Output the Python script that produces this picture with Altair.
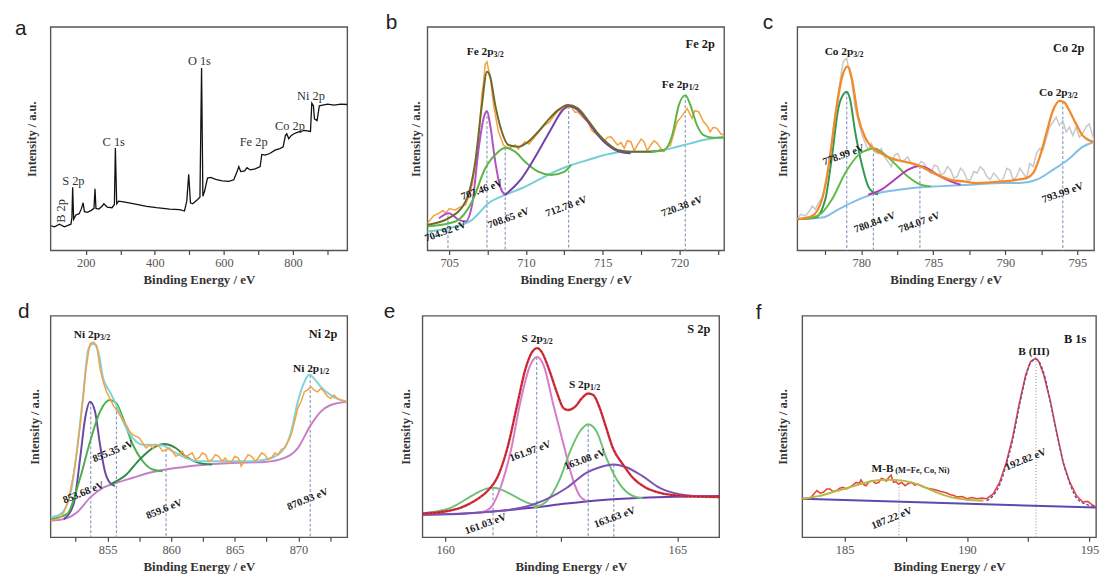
import altair as alt
import pandas as pd

SERIF = "Liberation Serif"
SANS = "Liberation Sans"

# ---------------- panel a : survey ----------------
A_BE = [100, 109.5, 123.8, 138, 152, 157, 160, 162, 165, 171.4, 181, 187.6, 192.4, 196, 204.8, 216, 223.8, 226.7, 229.5, 238,
        247.6, 252.4, 262, 276, 282.9, 285.7, 289.5, 295.2, 309.5, 328.6, 347.6, 376, 404.8, 442.9, 471.4, 485.7, 492.4, 498, 503, 509.5,
        523.8, 530.5, 535.2, 539, 543.8, 552.4, 562, 576, 595, 614, 628.6, 638, 642.9, 648.6, 660, 666.7, 676, 690.5, 704.8, 709.5,
        719, 733, 747.6, 761.9, 771.4, 778, 781.9, 787.6, 795.2, 802.9, 814.3, 833, 850.5, 854.3, 859, 862, 869.5, 876.2, 885.7, 900,
        919, 938, 957]
A_INT = [75, 72, 80, 72, 78, 80, 100, 192, 95, 108, 112, 128, 145, 118, 116, 122, 128, 188, 128, 126,
         135, 142, 132, 130, 140, 312, 142, 150, 148, 144, 140, 134, 130, 126, 124, 120, 150, 232, 145, 142,
         155, 162, 555, 165, 180, 220, 222, 216, 212, 210, 215, 240, 255, 240, 242, 252, 245, 248, 255, 292,
         290, 295, 305, 310, 315, 350, 355, 340, 350, 355, 360, 365, 362, 448, 440, 400, 395, 440, 442, 445,
         442, 445, 444]
A_LAB = ["S 2p", "C 1s", "O 1s", "Fe 2p", "Co 2p", "Ni 2p"]
A_LAB_BE = [164, 281, 529, 686, 791, 852]
A_LAB_I = [210, 330, 575, 330, 380, 470]
A_ROT_LAB = ["B 2p"]
A_ROT_BE = [128.6]
A_ROT_I = [120]
A_TICKS = [200, 300, 400, 500, 600, 700, 800, 900]

# ---------------- panel b : Fe 2p ----------------
B_RAW_BE = [703.58, 704.0, 704.33, 704.6, 704.76, 705.0, 705.41, 705.7, 706.06, 706.3, 706.49, 706.7, 706.92, 707.13, 707.24,
            707.35, 707.46, 707.58, 707.67, 707.89, 708.21, 708.53, 708.86, 709.29, 709.5, 709.94, 710.2, 710.58, 710.9, 711.23,
            711.5, 711.88, 712.1, 712.52, 712.95, 713.2, 713.38, 713.7, 714.03, 714.3, 714.68, 715.11, 715.3, 715.54, 715.97,
            716.2, 716.4, 716.6, 716.83, 717.05, 717.26, 717.5, 717.69, 717.9, 718.13, 718.35, 718.56, 718.8, 718.99, 719.2,
            719.42, 719.85, 720.1, 720.28, 720.5, 720.82, 721.0, 721.25, 721.57, 721.8, 722.0, 722.2, 722.44, 722.7, 722.91]
B_RAW_I = [82, 105, 112, 120, 112, 125, 122, 130, 137, 165, 197, 260, 337, 470, 507,
           560, 567, 540, 527, 437, 357, 317, 307, 317, 305, 327, 320, 342, 360, 377,
           385, 407, 420, 427, 432, 415, 417, 400, 387, 360, 347, 327, 340, 342, 317,
           325, 307, 330, 327, 300, 317, 335, 327, 300, 317, 330, 322, 305, 297, 310,
           317, 387, 400, 412, 427, 397, 420, 417, 387, 375, 357, 370, 367, 350, 347]
B_FIT_BE = [703.58, 704.98, 706.06, 706.70, 707.13, 707.46, 707.67, 708.0, 708.43, 708.86, 709.50, 710.15, 710.80, 711.44,
            712.09, 712.74, 713.38, 714.03, 714.68, 715.32, 715.97, 716.83, 718.13, 718.99]
B_FIT_I = [77, 97, 147, 267, 437, 537, 522, 437, 357, 317, 312, 327, 357, 392, 422, 437, 427, 392, 352, 322, 302, 297, 297, 302]
B_G2_BE = [718.13, 718.99, 719.53, 719.96, 720.39, 720.71, 721.14, 721.57, 722.22, 722.91]
B_G2_I = [297, 302, 347, 437, 467, 437, 377, 347, 339, 339]
B_BG_BE = [703.58, 705.41, 706.49, 707.56, 708.64, 709.72, 710.80, 711.88, 712.95, 714.03, 715.11, 716.40, 717.69, 718.99,
           719.85, 720.71, 721.57, 722.91]
B_BG_I = [57, 72, 92, 142, 167, 187, 212, 237, 257, 272, 287, 297, 297, 302, 312, 322, 332, 342]
B_P1_BE = [704.33, 704.98, 705.63, 706.06, 706.49, 706.92, 707.24, 707.46, 707.67, 708.0, 708.32, 708.64]
B_P1_I = [97, 112, 92, 87, 137, 307, 397, 419, 377, 267, 192, 167]
B_G1_BE = [703.58, 705.41, 706.49, 707.35, 708.21, 708.64, 709.29, 709.94, 710.80, 711.66, 712.52, 712.95]
B_G1_I = [72, 87, 147, 247, 297, 309, 297, 267, 237, 227, 237, 257]
B_P2_BE = [708.64, 709.72, 710.80, 711.66, 712.31, 712.78, 713.38, 714.03, 714.68, 715.32, 715.97, 716.83]
B_P2_I = [167, 217, 297, 367, 417, 434, 422, 387, 347, 317, 299, 292]
B_PK = [704.92, 707.46, 708.65, 712.78, 720.38]
B_PK_TOP = [105, 419, 309, 434, 467]
B_LBL = ["704.92 eV", "707.46 eV", "708.65 eV", "712.78 eV", "720.38 eV"]
B_LBL_BE = [704.76, 707.13, 708.86, 712.63, 720.17]
B_LBL_I = [57, 182, 97, 132, 132]
B_HEAD_MAIN = ["Fe 2p", "Fe 2p"]
B_HEAD_SUB = ["3/2", "1/2"]
B_HEAD_BE = [707.89, 720.6]
B_HEAD_I = [597, 497]
B_TICKS = [705, 707.5, 710, 712.5, 715, 717.5, 720, 722.5]

# ---------------- panel c : Co 2p ----------------
C_RAW_BE = [775.56, 775.8, 776.13, 776.4, 776.59, 776.81, 777.04, 777.27, 777.50, 777.73, 777.96, 778.19, 778.42, 778.65,
            778.76, 778.99, 779.10, 779.22, 779.56, 780.02, 780.25, 780.48, 780.71, 780.94, 781.17, 781.39, 781.62, 781.85,
            782.08, 782.31, 782.54, 782.77, 782.99, 783.23, 783.46, 783.91, 784.14, 784.37, 784.60, 784.83, 785.06, 785.29,
            785.52, 785.75, 785.98, 786.20, 786.43, 786.66, 786.89, 787.12, 787.35, 787.58, 787.81, 788.03, 788.26, 788.49,
            788.72, 788.95, 789.18, 789.41, 789.64, 789.87, 790.1, 790.32, 790.55, 790.78, 791.01, 791.24, 791.47, 791.70,
            791.93, 792.16, 792.39, 792.61, 792.84, 793.07, 793.3, 793.53, 793.76, 793.99, 794.22, 794.45, 794.68, 794.91,
            795.14, 795.36, 795.59, 795.82, 796.16]
C_RAW_I = [95, 110, 105, 120, 135, 125, 145, 160, 195, 260, 335, 420, 485, 550,
           575, 585, 560, 555, 435, 355, 330, 305, 325, 300, 295, 310, 285, 270,
           255, 290, 295, 270, 275, 285, 265, 255, 270, 265, 245, 235, 260, 255,
           230, 235, 255, 245, 220, 225, 250, 240, 215, 215, 240, 235, 255, 245,
           225, 215, 235, 225, 210, 220, 250, 245, 215, 225, 250, 235, 220, 265,
           255, 295, 310, 305, 340, 375, 390, 405, 380, 395, 360, 375, 350, 375,
           345, 355, 375, 385, 335]
C_FIT_BE = [775.56, 776.59, 777.27, 777.73, 778.19, 778.65, 779.04, 779.33, 779.79, 780.25, 780.71, 781.39, 782.08, 782.99,
            783.91, 784.60, 785.29, 786.20, 787.12, 788.03, 788.95, 789.87, 790.78, 791.47, 791.93, 792.39, 792.84, 793.30,
            793.76, 794.10, 794.45, 794.91, 795.36, 795.82, 796.16]
C_FIT_I = [95, 105, 155, 255, 405, 525, 560, 525, 405, 345, 315, 295, 280, 270, 260, 245, 230, 215, 210, 205, 207, 210, 215,
           220, 235, 285, 355, 425, 455, 450, 425, 385, 350, 335, 330]
C_G1_BE = [775.56, 776.81, 777.50, 777.96, 778.42, 778.76, 778.99, 779.22, 779.56, 780.02, 780.48, 780.82, 781.17]
C_G1_I = [95, 100, 155, 285, 435, 475, 483, 460, 365, 265, 195, 177, 170]
C_G2_BE = [775.56, 776.59, 777.27, 777.96, 778.88, 779.79, 780.48, 780.94, 781.39, 782.31, 783.23, 784.14, 784.83]
C_G2_I = [95, 100, 115, 155, 235, 290, 307, 310, 300, 265, 225, 200, 195]
C_P1_BE = [780.48, 781.39, 782.31, 783.23, 784.03, 784.60, 785.29, 786.20, 786.89]
C_P1_I = [170, 185, 215, 245, 257, 250, 230, 210, 200]
C_BG_BE = [775.56, 777.27, 778.42, 779.56, 780.71, 781.85, 782.99, 784.14, 785.29, 787.58, 789.87, 791.01, 792.16, 793.30,
           794.45, 795.36, 796.16]
C_BG_I = [95, 100, 125, 150, 170, 180, 187, 192, 195, 200, 205, 205, 215, 245, 280, 315, 330]
C_PK = [778.99, 780.84, 784.07, 793.99]
C_PK_TOP = [483, 310, 257, 453]
C_LBL = ["778.99 eV", "780.84 eV", "784.07 eV", "793.99 eV"]
C_LBL_BE = [778.76, 780.94, 784.03, 793.99]
C_LBL_I = [290, 85, 85, 175]
C_HEAD_MAIN = ["Co 2p", "Co 2p"]
C_HEAD_SUB = ["3/2", "3/2"]
C_HEAD_BE = [779.45, 794.33]
C_HEAD_I = [605, 480]
C_TICKS = [777.5, 780, 782.5, 785, 787.5, 790, 792.5, 795]

# ---------------- panel d : Ni 2p ----------------
D_RAW_BE = [850.52, 851.0, 851.30, 851.56, 851.81, 852.07, 852.33, 852.59, 852.85, 853.11, 853.24, 853.50, 853.63, 853.89,
            854.15, 854.41, 854.66, 854.92, 855.18, 855.44, 855.70, 855.96, 856.22, 856.48, 856.74, 856.99, 857.25, 857.51,
            857.77, 858.03, 858.3, 858.55, 858.8, 859.07, 859.33, 859.59, 859.85, 860.11, 860.36, 860.62, 860.88, 861.14,
            861.4, 861.66, 861.9, 862.18, 862.44, 862.70, 862.95, 863.21, 863.47, 863.73, 864.0, 864.25, 864.5, 864.77,
            865.0, 865.29, 865.5, 865.80, 866.05, 866.32, 866.6, 866.84, 867.1, 867.36, 867.6, 867.88, 868.15, 868.40,
            868.65, 868.91, 869.2, 869.43, 869.7, 869.95, 870.2, 870.47, 870.7, 870.98, 871.24, 871.50, 871.76, 872.02,
            872.3, 872.54, 872.8, 873.06, 873.4, 873.84]
D_RAW_I = [50, 55, 60, 75, 100, 140, 190, 260, 340, 430, 490, 560, 585, 590,
           580, 510, 470, 440, 420, 400, 385, 370, 355, 340, 320, 310, 305, 300,
           285, 270, 280, 270, 280, 275, 260, 265, 270, 260, 245, 250, 260, 240,
           250, 255, 235, 240, 255, 250, 230, 235, 250, 245, 230, 240, 225, 230,
           245, 240, 215, 235, 250, 245, 230, 240, 255, 250, 235, 240, 255, 250,
           265, 270, 290, 310, 350, 390, 410, 440, 445, 455, 445, 440, 450, 440,
           425, 420, 430, 420, 415, 410]
D_FIT_BE = [850.52, 851.30, 852.07, 852.59, 853.11, 853.50, 853.89, 854.28, 854.66, 855.18, 855.70, 856.22, 856.99, 857.77,
            858.55, 859.33, 860.11, 861.14, 862.18, 864.25, 866.32, 867.88, 868.91, 869.43, 869.95, 870.47, 870.86, 871.24,
            871.76, 872.54, 873.32, 873.84]
D_FIT_I = [60, 70, 130, 260, 440, 570, 585, 560, 480, 440, 400, 350, 300, 280, 280, 278, 260, 240, 230, 230, 230, 240, 270,
           320, 410, 470, 492, 480, 455, 430, 415, 410]
D_P1_BE = [851.56, 852.33, 852.85, 853.24, 853.63, 854.02, 854.41, 854.79, 855.18, 855.57]
D_P1_I = [55, 100, 240, 360, 410, 380, 280, 200, 165, 155]
D_G1_BE = [850.52, 851.81, 852.85, 853.63, 854.41, 855.18, 855.70, 856.22, 856.99, 857.77, 858.55, 859.33]
D_G1_I = [55, 70, 180, 290, 380, 415, 405, 360, 280, 230, 205, 200]
D_G2_BE = [855.18, 856.48, 857.51, 858.55, 859.46, 860.36, 861.14, 862.18, 863.21]
D_G2_I = [160, 190, 235, 270, 282, 270, 245, 225, 220]
D_BG_BE = [850.52, 851.56, 852.59, 853.63, 854.66, 855.70, 856.99, 858.29, 859.59, 860.88, 862.18, 864.77, 867.36, 868.91,
           869.95, 870.98, 871.76, 872.54, 873.84]
D_BG_I = [50, 55, 75, 120, 150, 165, 180, 195, 205, 212, 218, 225, 228, 240, 270, 340, 380, 400, 410]
D_PK = [853.68, 855.7, 859.6, 870.93]
D_PK_TOP = [410, 410, 282, 490]
D_LBL = ["853.68 eV", "855.35 eV", "859.6 eV", "870.93 eV"]
D_LBL_BE = [853.11, 855.44, 859.46, 870.73]
D_LBL_I = [135, 260, 85, 115]
D_HEAD_MAIN = ["Ni 2p", "Ni 2p"]
D_HEAD_SUB = ["3/2", "1/2"]
D_HEAD_BE = [854.41, 871.63]
D_HEAD_I = [612, 510]
D_TICKS = [852.5, 855, 857.5, 860, 862.5, 865, 867.5, 870, 872.5]

# ---------------- panel e : S 2p ----------------
E_FIT_BE = [159.51, 159.99, 160.34, 160.63, 160.91, 161.12, 161.34, 161.55, 161.73, 161.87, 161.98, 162.08, 162.23, 162.40,
            162.55, 162.65, 162.80, 162.94, 163.08, 163.19, 163.33, 163.47, 163.61, 163.83, 164.04, 164.32, 164.61, 165.11,
            165.90]
E_FIT_I = [72, 78, 90, 110, 140, 180, 270, 400, 510, 560, 572, 560, 510, 440, 390, 385, 395, 420, 435, 430, 390, 330, 270,
           220, 180, 150, 135, 125, 122]
E_P1_BE = [160.77, 160.98, 161.19, 161.41, 161.62, 161.83, 161.98, 162.12, 162.33, 162.55, 162.76, 162.90, 163.04]
E_P1_I = [75, 90, 150, 260, 410, 520, 545, 520, 400, 280, 170, 125, 110]
E_G1_BE = [159.51, 160.13, 160.63, 160.91, 161.05, 161.19, 161.48, 161.76, 162.05]
E_G1_I = [72, 90, 130, 148, 150, 145, 125, 105, 95]
E_G2_BE = [161.91, 162.19, 162.48, 162.69, 162.90, 163.08, 163.26, 163.47, 163.76, 164.04, 164.25]
E_G2_I = [90, 110, 180, 260, 320, 342, 320, 240, 160, 125, 118]
E_P2_BE = [159.51, 161.19, 161.91, 162.62, 163.04, 163.33, 163.63, 163.90, 164.25, 164.61, 165.04, 165.46, 165.90]
E_P2_I = [68, 80, 100, 150, 195, 212, 220, 212, 185, 150, 130, 124, 122]
E_BG_BE = [159.51, 160.48, 161.19, 161.91, 162.62, 163.33, 164.04, 164.75, 165.90]
E_BG_I = [68, 72, 80, 90, 102, 112, 118, 122, 125]
E_PK = [161.03, 161.97, 163.08, 163.63]
E_PK_TOP = [150, 545, 342, 220]
E_LBL = ["161.03 eV", "161.97 eV", "163.08 eV", "163.63 eV"]
E_LBL_BE = [160.87, 161.83, 163.01, 163.65]
E_LBL_I = [40, 260, 235, 60]
E_HEAD_MAIN = ["S 2p", "S 2p"]
E_HEAD_SUB = ["3/2", "1/2"]
E_HEAD_BE = [162.10, 163.12]
E_HEAD_I = [600, 460]
E_TICKS = [160, 162.5, 165]

# ---------------- panel f : B 1s ----------------
F_RAW_BE = [183.27, 183.60, 183.87, 184.0, 184.13, 184.27, 184.40, 184.53, 184.67, 184.8, 184.93, 185.07, 185.2, 185.33,
            185.47, 185.6, 185.67, 185.8, 185.87, 186.0, 186.13, 186.27, 186.40, 186.5, 186.6, 186.7, 186.8, 186.9, 187.0,
            187.1, 187.2, 187.33, 187.47, 187.6, 187.73, 187.87, 188.0, 188.13, 188.27, 188.4, 188.53, 188.67, 188.8,
            188.93, 189.07, 189.2, 189.33, 189.47, 189.6, 189.8, 190.0, 190.2, 190.4, 190.6, 190.8, 191.07, 191.33, 191.6,
            191.87, 192.13, 192.4, 192.6, 192.8, 192.93, 193.13, 193.4, 193.67, 193.93, 194.2, 194.47, 194.73, 194.93,
            195.1, 195.27]
F_RAW_I = [118, 120, 143, 135, 138, 148, 148, 140, 143, 150, 153, 148, 153, 160,
           168, 165, 176, 160, 158, 170, 173, 165, 168, 180, 178, 172, 183, 190, 168,
           170, 163, 168, 158, 165, 168, 160, 163, 158, 153, 150, 148, 146, 143,
           140, 138, 135, 130, 128, 123, 125, 118, 122, 118, 120, 118, 133, 168, 228,
           308, 408, 498, 538, 548, 538, 498, 418, 318, 228, 168, 128, 108, 110,
           100, 93]
F_MB_BE = [183.27, 183.93, 184.6, 185.33, 186.0, 186.67, 187.2, 187.73, 188.27, 188.8, 189.33, 190.0, 190.67]
F_MB_I = [118, 126, 140, 156, 170, 176, 175, 168, 153, 136, 123, 115, 112]
F_B3_BE = [190.8, 191.07, 191.33, 191.6, 191.87, 192.13, 192.4, 192.6, 192.82, 193.0, 193.2, 193.4, 193.67, 193.93, 194.2,
           194.53, 195.27]
F_B3_I = [112, 128, 160, 222, 300, 400, 490, 535, 545, 530, 485, 415, 318, 230, 165, 115, 93]
F_BG_BE = [183.27, 195.27]
F_BG_I = [118, 91]
F_PK = [187.22, 192.82]
F_PK_TOP = [173, 548]
F_LBL = ["187.22 eV", "192.82 eV"]
F_LBL_BE = [186.93, 192.4]
F_LBL_I = [58, 238]
F_TICKS = [185, 187.5, 190, 192.5, 195]


# ---------------- helpers ----------------
def xenc(dom, ticks, step):
    return alt.X("be:Q", scale=alt.Scale(domain=dom, nice=False, zero=False),
                 axis=alt.Axis(title="Binding Energy / eV", values=ticks,
                               labelExpr=f"datum.value % {step} == 0 ? datum.label : ''",
                               grid=False, domain=False, tickSize=4, tickWidth=1.2, tickColor="#444",
                               labelFont=SERIF, labelFontSize=12.5, labelColor="#555", labelPadding=2,
                               labelOverlap=False, labelFlush=False,
                               titleFont=SERIF, titleFontSize=13, titleFontWeight="bold",
                               titleColor="#333", titlePadding=5))


def yenc(dom, tpad):
    return alt.Y("i:Q", scale=alt.Scale(domain=dom, nice=False, zero=False),
                 axis=alt.Axis(title="Intensity / a.u.", labels=False, ticks=False, domain=False, grid=False,
                               titleFont=SERIF, titleFontSize=12.5, titleFontWeight="bold",
                               titleColor="#333", titlePadding=tpad))


def line(xs, ys, color, X, Y, w=2.0, dash=None, interp="monotone"):
    df = pd.DataFrame({"be": xs, "i": ys})
    kw = dict(color=color, strokeWidth=w, interpolate=interp, clip=True)
    if dash is not None:
        kw["strokeDash"] = dash
    return alt.Chart(df).mark_line(**kw).encode(x=X, y=Y)


def rules(xs, tops, X, Y, color="#8d9dc0", dash=(3, 2)):
    df = pd.DataFrame({"be": xs, "i": tops, "i0": [0] * len(xs)})
    return alt.Chart(df).mark_rule(color=color, strokeDash=list(dash), strokeWidth=1.2).encode(
        x=X, y=Y, y2="i0:Q")


def texts(lbls, xs, ys, X, Y, angle=0, size=10.5, weight="bold", align="center", dy=0, color="#1a1a1a"):
    df = pd.DataFrame({"be": xs, "i": ys, "t": lbls})
    return alt.Chart(df).mark_text(angle=angle, font=SERIF, fontSize=size, fontWeight=weight, color=color,
                                   align=align, baseline="middle", dy=dy).encode(x=X, y=Y, text="t:N")


def heads(mains, subs, xs, ys, X, Y):
    return [texts(mains, xs, ys, X, Y, size=11.5, align="right"),
            texts(subs, xs, ys, X, Y, size=8, align="left", dy=3)]


def letter(ch, dx, dy, opacity=1.0):
    df = pd.DataFrame({"t": [ch]})
    return alt.Chart(df).mark_text(font=SANS, fontSize=21, align="left", baseline="alphabetic",
                                   color="#222", opacity=opacity).encode(
        x=alt.value(dx), y=alt.value(dy), text="t:N")


# ---------------- panel a ----------------
Xa = xenc([98, 957], A_TICKS, 200)
Ya = yenc([0, 680], 12)
pa = alt.layer(
    line(A_BE, A_INT, "#111", Xa, Ya, w=1.3, interp="linear"),
    texts(A_LAB, A_LAB_BE, A_LAB_I, Xa, Ya, size=12.5, weight="normal", color="#333"),
    texts(A_ROT_LAB, A_ROT_BE, A_ROT_I, Xa, Ya, angle=270, size=12.5, weight="normal", color="#333"),
    letter("a", -36, 8),
).properties(width=300, height=226)

# ---------------- panel b ----------------
Xb = xenc([703.58, 722.91], B_TICKS, 5)
Yb = yenc([0, 672], 5)
pb = alt.layer(
    rules(B_PK, B_PK_TOP, Xb, Yb),
    line(B_RAW_BE, B_RAW_I, "#f4a040", Xb, Yb, w=1.5, interp="linear"),
    line(B_BG_BE, B_BG_I, "#74cfd6", Xb, Yb),
    line(B_P1_BE, B_P1_I, "#b44fc6", Xb, Yb),
    line(B_G1_BE, B_G1_I, "#5cb646", Xb, Yb),
    line(B_P2_BE, B_P2_I, "#7340b0", Xb, Yb),
    line(B_FIT_BE, B_FIT_I, "#6e6a2a", Xb, Yb),
    line(B_G2_BE, B_G2_I, "#5cb646", Xb, Yb),
    texts(B_LBL, B_LBL_BE, B_LBL_I, Xb, Yb, angle=340),
    *heads(B_HEAD_MAIN, B_HEAD_SUB, B_HEAD_BE, B_HEAD_I, Xb, Yb),
    texts(["Fe 2p"], [722.3], [622], Xb, Yb, size=12.5, align="right"),
    letter("b", -42, 2),
).properties(width=300, height=226)

# ---------------- panel c ----------------
Xc = xenc([775.56, 796.16], C_TICKS, 5)
Yc = yenc([0, 680], 8)
pc = alt.layer(
    rules(C_PK, C_PK_TOP, Xc, Yc),
    line(C_RAW_BE, C_RAW_I, "#c8c8c8", Xc, Yc, w=1.5, interp="linear"),
    line(C_BG_BE, C_BG_I, "#82bfe6", Xc, Yc),
    line(C_G1_BE, C_G1_I, "#2f9a50", Xc, Yc),
    line(C_G2_BE, C_G2_I, "#62bb46", Xc, Yc),
    line(C_P1_BE, C_P1_I, "#b23bb5", Xc, Yc),
    line(C_FIT_BE, C_FIT_I, "#f28a2c", Xc, Yc, w=2.3),
    texts(C_LBL, C_LBL_BE, C_LBL_I, Xc, Yc, angle=340),
    *heads(C_HEAD_MAIN, C_HEAD_SUB, C_HEAD_BE, C_HEAD_I, Xc, Yc),
    texts(["Co 2p"], [795.48], [615], Xc, Yc, size=12.5, align="right"),
    letter("c", -35, 2),
).properties(width=300, height=226)

# ---------------- panel d ----------------
Xd = xenc([850.52, 873.84], D_TICKS, 5)
Yd = yenc([0, 670], 9)
pd_ = alt.layer(
    rules(D_PK, D_PK_TOP, Xd, Yd),
    line(D_BG_BE, D_BG_I, "#c67ec8", Xd, Yd),
    line(D_P1_BE, D_P1_I, "#6a4aa5", Xd, Yd),
    line(D_G1_BE, D_G1_I, "#4cb04f", Xd, Yd),
    line(D_G2_BE, D_G2_I, "#2f8c45", Xd, Yd),
    line(D_FIT_BE, D_FIT_I, "#7fd4dc", Xd, Yd),
    line(D_RAW_BE, D_RAW_I, "#f5a145", Xd, Yd, w=1.5, interp="linear"),
    texts(D_LBL, D_LBL_BE, D_LBL_I, Xd, Yd, angle=338),
    *heads(D_HEAD_MAIN, D_HEAD_SUB, D_HEAD_BE, D_HEAD_I, Xd, Yd),
    texts(["Ni 2p"], [873.06], [615], Xd, Yd, size=12.5, align="right"),
    letter("d", -40, 2, opacity=0),
    letter("d", -33, 2),
).properties(width=300, height=224)

# ---------------- panel e ----------------
Xe = xenc([159.51, 165.9], E_TICKS, 5)
Ye = yenc([0, 670], 10)
pe = alt.layer(
    rules(E_PK, E_PK_TOP, Xe, Ye),
    line(E_BG_BE, E_BG_I, "#6a40aa", Xe, Ye),
    line(E_G1_BE, E_G1_I, "#6fc274", Xe, Ye),
    line(E_P1_BE, E_P1_I, "#d77cc7", Xe, Ye),
    line(E_G2_BE, E_G2_I, "#6fc274", Xe, Ye),
    line(E_P2_BE, E_P2_I, "#7b53b5", Xe, Ye),
    line(E_FIT_BE, E_FIT_I, "#d9303f", Xe, Ye, w=2.4),
    line(E_FIT_BE, E_FIT_I, "#5a1a20", Xe, Ye, w=1.0, dash=[1, 3]),
    texts(E_LBL, E_LBL_BE, E_LBL_I, Xe, Ye, angle=340),
    *heads(E_HEAD_MAIN, E_HEAD_SUB, E_HEAD_BE, E_HEAD_I, Xe, Ye),
    texts(["S 2p"], [165.71], [630], Xe, Ye, size=12.5, align="right"),
    letter("e", -39, 2),
).properties(width=300, height=224)

# ---------------- panel f ----------------
Xf = xenc([183.27, 195.27], F_TICKS, 5)
Yf = yenc([0, 678], 13)
pf = alt.layer(
    rules(F_PK, F_PK_TOP, Xf, Yf, color="#a0a0a0", dash=(1, 2)),
    line(F_BG_BE, F_BG_I, "#5b4bb0", Xf, Yf, interp="linear"),
    line(F_RAW_BE, F_RAW_I, "#e8453c", Xf, Yf, w=1.6, interp="linear"),
    line(F_MB_BE, F_MB_I, "#b9b845", Xf, Yf),
    line(F_B3_BE, F_B3_I, "#6a4aa8", Xf, Yf, w=1.4, dash=[3, 2]),
    texts(F_LBL, F_LBL_BE, F_LBL_I, Xf, Yf, angle=338),
    texts(["B (III)"], [192.73], [568], Xf, Yf, size=11.5),
    texts(["M-B"], [187.0], [208], Xf, Yf, size=11.5, align="right"),
    texts(["(M=Fe, Co, Ni)"], [187.07], [208], Xf, Yf, size=8.5, align="left", dy=1),
    texts(["B 1s"], [194.87], [608], Xf, Yf, size=12.5, align="right"),
    letter("f", -47, 3),
).properties(width=297, height=224)

row1 = alt.hconcat(pa, pb, pc, spacing=37)
row2 = alt.hconcat(pd_, pe, pf, spacing=35)
chart = alt.vconcat(row1, row2, spacing=12).properties(
    padding={"left": 2, "top": 0, "right": 0, "bottom": 0}
).configure(background="white", font=SERIF).configure_view(stroke="#555", strokeWidth=1.4)

chart.save("out.html", embed_options={"renderer": "svg", "actions": False})
